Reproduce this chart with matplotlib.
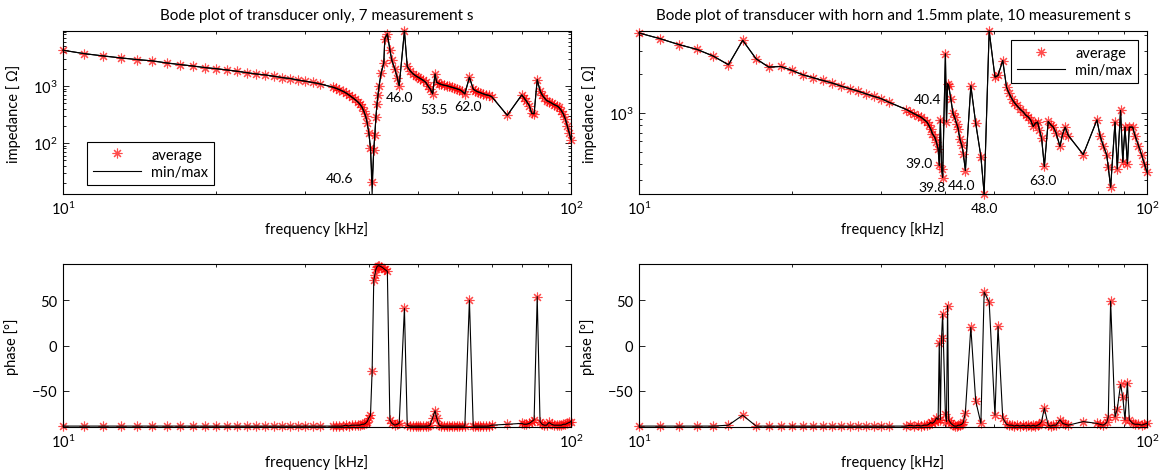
import numpy as np
import matplotlib
matplotlib.use("Agg")
import matplotlib.pyplot as plt
from matplotlib.ticker import NullFormatter, FixedLocator

# --------------------------------------------------------
# DATA
# --------------------------------------------------------

# transducer only, 7 measurements
tl_f = [10, 11, 12, 13, 14, 15, 16, 17, 18, 19,
        20, 21, 22, 23, 24, 25, 26, 27, 28, 29,
        30, 31, 32, 34.0, 34.5, 35.0, 35.5, 36.0, 36.5, 37.0,
        37.5, 38.0, 38.4, 38.8, 39.1, 39.4, 39.7, 40.0, 40.3, 40.6,
        40.9, 41.1, 41.3, 41.5, 41.7, 41.9, 42.3, 42.8, 43.0, 43.5,
        44.0, 44.4, 45.0, 45.5, 45.9, 47.0, 47.6, 48.2, 48.9, 49.5,
        50.0, 50.5, 51.2, 51.8, 52.3, 52.8, 53.4, 54.0, 54.4, 55.0,
        55.6, 56.2, 56.9, 57.5, 58.2, 58.9, 59.6, 60.3, 61.0, 61.8,
        63.1, 64.2, 64.8, 65.5, 66.3, 67.2, 68.0, 68.9, 69.8, 74.9,
        80.0, 80.8, 81.7, 82.8, 83.7, 84.6, 85.8, 86.9, 87.7, 88.6,
        89.5, 90.5, 91.6, 92.6, 93.7, 94.7, 95.7, 96.6, 97.5, 98.3,
        99.2, 100]
tl_z = [4230, 3690, 3360, 3100, 2900, 2750, 2530, 2370, 2240, 2100,
        2010, 1910, 1810, 1710, 1620, 1560, 1480, 1400, 1350, 1270,
        1210, 1150, 1090, 950, 905, 860, 810, 760, 700, 640,
        585, 530, 480, 420, 360, 300, 225, 150, 80, 21,
        75, 140, 280, 480, 700, 1000, 1700, 2500, 6700, 8200,
        4300, 2800, 2000, 1400, 1010, 9200, 2200, 1850, 1620, 1500,
        1420, 1350, 1250, 1150, 1000, 890, 725, 1620, 1160, 1100,
        1060, 1030, 1010, 980, 950, 920, 890, 860, 810, 725,
        1420, 880, 830, 790, 760, 725, 700, 680, 650, 305,
        695, 620, 540, 450, 330, 325, 1290, 830, 700, 620,
        555, 530, 500, 470, 450, 420, 370, 320, 260, 200,
        150, 114]
tl_p = [-89, -89, -89, -89, -89, -89, -89, -89, -89, -89,
        -89, -89, -89, -89, -89, -89, -89, -89, -89, -89,
        -89, -89, -89, -89, -89, -89, -89, -88, -89, -88,
        -88, -88, -88, -87, -87, -86, -84, -80, -77, -28,
        72, 78, 84, 87, 88, 88, 87, 85, 84, 82,
        -82, -86, -88, -87, -86, 41, -88, -89, -89, -89,
        -89, -89, -89, -89, -89, -88, -80, -72, -80, -88,
        -89, -89, -89, -89, -89, -89, -89, -89, -89, -89,
        50, -89, -89, -89, -89, -89, -89, -89, -88, -87,
        -86, -87, -87, -86, -84, -82, 54, -84, -87, -88,
        -88, -85, -87, -88, -88, -88, -88, -87, -87, -86,
        -85, -84]
# lowest single measurement where it departs from the average
tl_zmin_dev = {40.6: 12.7}
tl_marks = [(35.06, 24.3, "40.6"), (46.07, 649, "46.0"),
            (53.67, 395, "53.5"), (62.8, 451, "62.0")]

# transducer with horn and 1.5mm plate, 10 measurements
tr_f = [10, 11, 12, 13, 14, 15, 16, 17, 18, 19,
        20, 21, 22, 23, 24, 25, 26, 27, 28, 29,
        30, 31, 33.6, 34.2, 34.8, 35.4, 35.9, 36.4, 36.9, 37.2,
        37.5, 37.8, 38.2, 38.5, 38.8, 39.0, 39.2, 39.4, 39.6, 40.1,
        40.3, 40.5, 40.7, 41.1, 41.5, 41.8, 42.2, 42.5, 42.8, 43.2,
        43.5, 43.9, 45.0, 46.0, 47.1, 47.8, 48.9, 50.2, 50.9, 52.0,
        52.9, 53.5, 54.2, 54.8, 55.4, 56.2, 57.1, 57.7, 58.4, 59.0,
        59.7, 60.3, 60.9, 61.4, 62.0, 62.8, 63.9, 64.6, 65.4, 66.2,
        67.4, 68.2, 69.0, 70.0, 74.9, 79.7, 80.8, 82.0, 83.3, 83.9,
        84.8, 86.5, 87.4, 88.7, 89.6, 90.5, 91.5, 92.3, 93.7, 94.7,
        96.2, 97.6, 98.8, 100]
tr_z = [4150, 3750, 3370, 3100, 2750, 2355, 3640, 2620, 2260, 2285,
        2130, 1970, 1870, 1780, 1700, 1610, 1535, 1470, 1400, 1340,
        1285, 1210, 1060, 1020, 983, 950, 925, 885, 847, 800,
        752, 690, 647, 593, 526, 391, 880, 370, 315, 2860,
        850, 1680, 1620, 1280, 990, 925, 822, 752, 629, 560,
        481, 357, 1618, 832, 458, 235, 4300, 1890, 1945, 2540,
        1580, 1420, 1285, 1200, 1140, 1070, 1012, 960, 926, 880,
        784, 830, 847, 740, 640, 384, 857, 810, 774, 700,
        549, 680, 774, 667, 475, 880, 667, 558, 472, 379,
        265, 847, 368, 1042, 415, 774, 403, 774, 774, 667,
        558, 472, 403, 347]
tr_p = [-89, -89, -89, -89, -89, -88, -77, -89, -89, -89,
        -89, -89, -89, -89, -89, -89, -89, -89, -89, -89,
        -89, -89, -89, -88, -89, -88, -89, -88, -88, -87,
        -85, -86, -84, -80, -82, 3, -82, 8, 35, -76,
        -84, 44, -82, -86, -88, -89, -89, -88, -88, -87,
        -85, -74, 20, -61, -86, 59, 48, -77, 21, -80,
        -87, -88, -88, -89, -88, -89, -88, -89, -88, -89,
        -88, -89, -88, -87, -84, -69, -88, -89, -88, -88,
        -82, -86, -87, -88, -84, -86, -87, -88, -85, -79,
        49, -79, -70, -43, -57, -82, -41, -82, -86, -87,
        -87, -88, -87, -86]
tr_zmin_dev = {}
tr_marks = [(36.98, 1283, "40.4"), (35.6, 407, "39.0"), (37.8, 268, "39.8"),
            (43.2, 278, "44.0"), (62.4, 299, "63.0"), (47.77, 182, "48.0")]

titles = ["Bode plot of transducer only, 7 measurement s",
          "Bode plot of transducer with horn and 1.5mm plate, 10 measurement s"]

# --------------------------------------------------------
# FIGURE
# --------------------------------------------------------

plt.rcParams['font.family'] = ['Lato', 'DejaVu Sans']
plt.rcParams['font.size'] = 10.5

W, H = 1161, 477
fig = plt.figure(figsize=(W / 100, H / 100), dpi=100)


def make_ax(x0, y0):
    return fig.add_axes([x0 / W, 1 - (y0 + 163) / H, 508 / W, 163 / H])


def style(ax):
    ax.tick_params(which='both', direction='in', top=True, right=True, width=0.6)
    ax.tick_params(which='major', length=4, pad=4, labelsize=10.5)
    ax.tick_params(which='minor', length=2.5)
    for s in ax.spines.values():
        s.set_linewidth(0.8)
    ax.set_xscale('log')
    ax.set_xlim(10, 100)
    ax.xaxis.set_minor_formatter(NullFormatter())
    ax.set_xlabel('frequency [kHz]', labelpad=3)


STAR = (8, 2, 0)


def bode(x0, f, z, p, zmin_dev, marks, title, legend_at):
    f = np.array(f)
    z = np.array(z, dtype=float)
    zmin = z.copy()
    for fk, v in zmin_dev.items():
        zmin[np.argmin(np.abs(f - fk))] = v

    ax = make_ax(x0, 32)
    style(ax)
    ax.set_yscale('log')
    h1, = ax.plot(f, z, ls='none', marker=STAR, ms=7, mew=0.8, color='red',
                  alpha=0.7, clip_on=False, zorder=2)
    h2, = ax.plot(f, z, color='k', lw=0.8, clip_on=False, zorder=3)
    ax.plot(f, zmin, color='k', lw=0.8, clip_on=False, zorder=3)
    ax.set_ylim(zmin.min(), z.max())
    ax.yaxis.set_minor_formatter(NullFormatter())
    ax.set_ylabel('impedance [ Ω]')
    ax.yaxis.set_label_coords(-0.083, 0.5)
    ax.set_title(title, fontsize=11, pad=8.5)
    for fx, zy, s in marks:
        ax.text(fx, zy, s, ha='center', va='center', fontsize=10)
    leg = ax.legend([h1, h2], ['average', 'min/max'], borderaxespad=0,
                    fancybox=False, edgecolor='k', framealpha=1,
                    fontsize=10.5, handlelength=3.3, borderpad=0.4,
                    labelspacing=0.25, handletextpad=0.7, **legend_at)
    leg.get_frame().set_linewidth(0.8)

    bx = make_ax(x0, 265)
    style(bx)
    bx.plot(f, p, ls='none', marker=STAR, ms=7, mew=0.8, color='red',
            alpha=0.7, clip_on=False, zorder=2)
    bx.plot(f, p, color='k', lw=0.8, clip_on=False, zorder=3)
    bx.set_ylim(-90, 90)
    bx.yaxis.set_major_locator(FixedLocator([-50, 0, 50]))
    bx.set_ylabel('phase [°]')
    bx.yaxis.set_label_coords(-0.087, 0.5)


bode(63, tl_f, tl_z, tl_p, tl_zmin_dev, tl_marks, titles[0],
     dict(loc='lower left', bbox_to_anchor=(0.047, 0.055)))
bode(639, tr_f, tr_z, tr_p, tr_zmin_dev, tr_marks, titles[1],
     dict(loc='upper right', bbox_to_anchor=(0.982, 0.945)))

fig.savefig('out.png', dpi=100)
